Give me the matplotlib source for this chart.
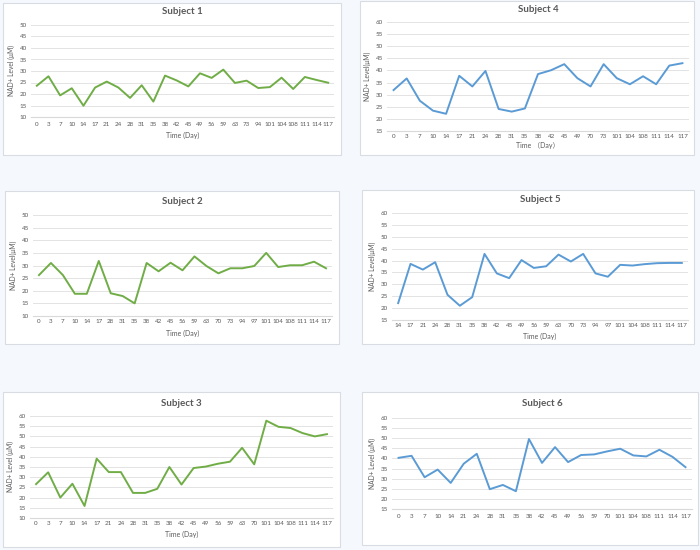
import matplotlib
matplotlib.use("Agg")
import matplotlib.pyplot as plt
from matplotlib.patches import Rectangle

plt.rcParams["font.family"] = ["Lato", "Noto Sans CJK SC", "DejaVu Sans"]

# Subject 1
days1 = ["0", "3", "7", "10", "14", "17", "21", "24", "28", "31", "35", "38", "42", "45",
         "49", "56", "59", "63", "73", "94", "101", "104", "108", "111", "114", "117"]
nad1 = [23.6, 27.7, 19.4, 22.5, 14.9, 22.8, 25.4, 22.8, 18.3, 23.8, 16.7, 28.0, 25.9, 23.3,
        29.0, 27.0, 30.6, 24.8, 25.8, 22.6, 23.0, 27.1, 22.2, 27.4, 26.1, 24.9]

# Subject 2
days2 = ["0", "3", "7", "10", "14", "17", "28", "31", "35", "38", "42", "45", "56", "59",
         "63", "70", "73", "94", "97", "101", "104", "108", "111", "114", "117"]
nad2 = [26.2, 31.0, 26.2, 18.8, 18.8, 31.8, 19.0, 17.9, 15.0, 31.0, 27.7, 31.1, 28.1, 33.6,
        29.8, 26.9, 28.9, 28.9, 29.8, 35.0, 29.4, 30.1, 30.1, 31.5, 28.9]

# Subject 3
days3 = ["0", "3", "7", "10", "14", "17", "21", "24", "28", "31", "35", "38", "42", "45",
         "49", "56", "59", "63", "70", "101", "104", "108", "111", "114", "117"]
nad3 = [26.6, 32.4, 20.0, 26.8, 15.9, 39.1, 32.5, 32.5, 22.3, 22.3, 24.3, 35.0, 26.4, 34.5,
        35.2, 36.6, 37.6, 44.4, 36.3, 57.7, 54.7, 54.1, 51.6, 50.0, 51.1]

# Subject 4
days4 = ["0", "3", "7", "10", "14", "17", "21", "24", "28", "31", "35", "38", "42", "45",
         "49", "70", "73", "101", "104", "108", "111", "114", "117"]
nad4 = [31.9, 36.7, 27.5, 23.4, 22.1, 37.8, 33.4, 39.8, 24.1, 23.0, 24.3, 38.5, 40.1, 42.6,
        36.8, 33.4, 42.6, 36.8, 34.3, 37.6, 34.3, 42.0, 43.0]

# Subject 5
days5 = ["14", "17", "21", "24", "28", "31", "35", "38", "42", "45", "49", "56", "59", "63",
         "70", "73", "94", "97", "101", "104", "108", "111", "114", "117"]
nad5 = [22.1, 38.6, 36.2, 39.3, 25.6, 21.0, 24.6, 42.8, 34.6, 32.6, 40.2, 36.9, 37.6, 42.5,
        39.6, 42.8, 34.6, 33.2, 38.2, 37.9, 38.5, 38.9, 39.0, 39.0]

# Subject 6
days6 = ["0", "3", "7", "10", "14", "21", "24", "28", "31", "35", "38", "42", "45", "49",
         "56", "59", "70", "101", "104", "108", "111", "114", "117"]
nad6 = [40.3, 41.3, 30.7, 34.5, 27.9, 37.4, 42.3, 24.8, 26.9, 23.8, 49.6, 37.8, 45.6, 38.2,
        41.7, 42.0, 43.5, 44.8, 41.5, 41.0, 44.3, 40.8, 35.7]

W, H = 700, 550
GREEN = "#70ad47"
BLUE = "#5b9bd5"
TXT = "#595959"

fig = plt.figure(figsize=(7, 5.5), dpi=100)
fig.patch.set_facecolor("#f5f8fc")


def fx(x):
    return x / W


def fy(y):
    return 1 - y / H


def panel(box, plot, title_y, tick_y, xlabel_y, days, vals, color, title,
          ymin, ymax, ylabel, xlabel):
    bx0, by0, bx1, by1 = box
    fig.patches.append(Rectangle((fx(bx0), fy(by1)), fx(bx1 - bx0), (by1 - by0) / H,
                                 transform=fig.transFigure, facecolor="white",
                                 edgecolor="#d9dde3", linewidth=0.8, zorder=-5))
    px0, py0, px1, py1 = plot
    ax = fig.add_axes([fx(px0), fy(py1), fx(px1 - px0), (py1 - py0) / H])
    ax.set_facecolor("none")
    x = list(range(len(days)))
    ax.plot(x, vals, color=color, linewidth=1.4, zorder=3)
    ax.set_xlim(-0.5, len(days) - 0.5)
    ax.set_ylim(ymin, ymax)
    ax.set_yticks(range(ymin, ymax + 1, 5))
    ax.set_xticks(x)
    ax.set_xticklabels(days)
    ax.grid(axis="y", color="#e3e3e3", linewidth=0.7)
    ax.set_axisbelow(True)
    for s in ["top", "right", "left"]:
        ax.spines[s].set_visible(False)
    ax.spines["bottom"].set_color("#d9d9d9")
    ax.tick_params(length=0, labelsize=4.5, labelcolor=TXT)
    ax.tick_params(axis="x", pad=(tick_y - py1) * 0.72 - 2)
    ax.tick_params(axis="y", pad=3)
    ax.set_ylabel(ylabel, fontsize=4.8, color=TXT, labelpad=3)
    fig.text(fx((px0 + px1) / 2), fy(title_y), title, ha="center", va="center",
             fontsize=7, fontweight="bold", color=TXT)
    if xlabel:
        fig.text(fx((px0 + px1) / 2), fy(xlabel_y), xlabel, ha="center", va="center",
                 fontsize=5, color=TXT)
    return ax


panel((3, 3, 341, 155), (31, 25, 334, 117), 12, 125, 135, days1, nad1, GREEN,
      "Subject 1", 10, 50, "NAD+ Level (μM)", "Time (Day)")
panel((360, 1, 694, 155), (387, 22, 689, 131), 10, 137, 146, days4, nad4, BLUE,
      "Subject 4", 15, 60, "NAD+ Level(μM)", "Time （Day）")
panel((5, 191, 339, 344), (33, 215, 332, 316), 202, 322, 333, days2, nad2, GREEN,
      "Subject 2", 10, 50, "NAD+ Level(μM)", "Time (Day)")
panel((362, 190, 694, 344), (392, 213, 688, 320), 200, 326, 336, days5, nad5, BLUE,
      "Subject 5", 15, 60, "NAD+ Level(μM)", "Time (Day)")
panel((3, 392, 340, 547), (30, 416, 333, 518), 403, 524, 534, days3, nad3, GREEN,
      "Subject 3", 10, 60, "NAD+ Level (μM)", "Time (Day)")
panel((362, 392, 698, 545), (392, 418, 692, 509), 403, 517, None, days6, nad6, BLUE,
      "Subject 6", 15, 60, "NAD+ Level (μM)", None)

fig.savefig("out.png", dpi=100, facecolor=fig.get_facecolor())
